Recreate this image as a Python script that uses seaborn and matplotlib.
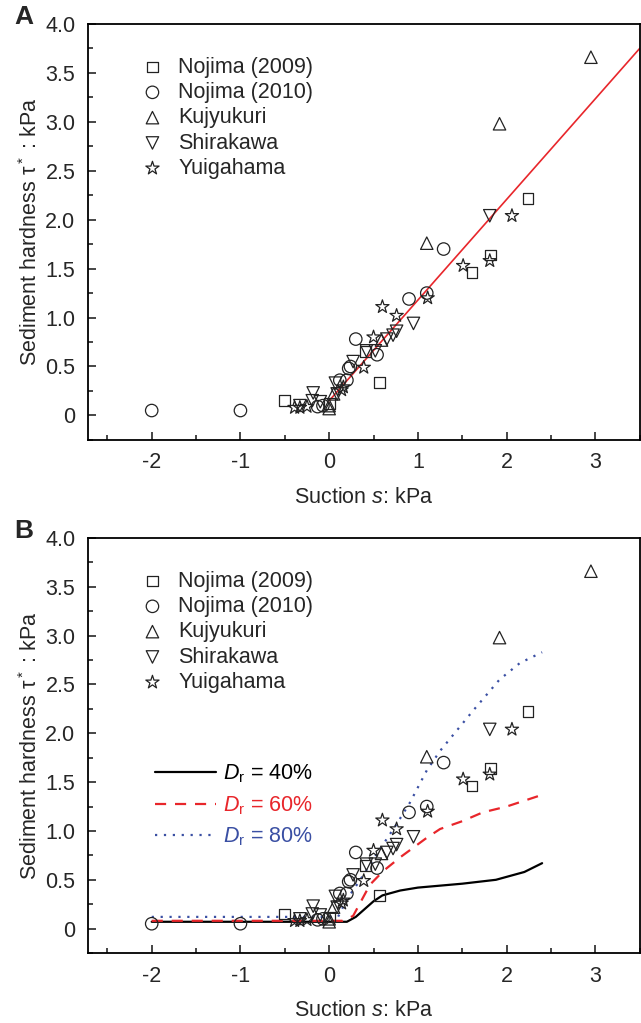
import numpy as np
import pandas as pd
import matplotlib
matplotlib.use('Agg')
import matplotlib.pyplot as plt
from matplotlib.ticker import MultipleLocator, FuncFormatter
import seaborn as sns

# field data (suction s [kPa], sediment hardness tau* [kPa])
nojima09_s = [-0.50, 0.00, 0.41, 0.57, 1.61, 1.82, 2.24]
nojima09_t = [0.15, 0.12, 0.65, 0.34, 1.46, 1.64, 2.22]

nojima10_s = [-2.00, -1.00, -0.13, -0.07, 0.12, 0.20, 0.22, 0.24, 0.30, 0.54, 0.90, 1.10, 1.29]
nojima10_t = [0.05, 0.05, 0.09, 0.10, 0.36, 0.36, 0.48, 0.50, 0.78, 0.62, 1.19, 1.25, 1.70]

kujyukuri_s = [0.00, 0.00, 0.05, 0.59, 1.10, 1.92, 2.95]
kujyukuri_t = [0.07, 0.10, 0.22, 0.77, 1.76, 2.98, 3.66]

shirakawa_s = [-0.33, -0.19, -0.18, -0.10, 0.07, 0.09, 0.27, 0.42, 0.52, 0.65, 0.72, 0.76, 0.95, 1.81]
shirakawa_t = [0.10, 0.15, 0.23, 0.14, 0.33, 0.22, 0.55, 0.66, 0.66, 0.78, 0.82, 0.86, 0.94, 2.04]

yuigahama_s = [-0.39, -0.33, -0.25, 0.14, 0.16, 0.39, 0.50, 0.60, 0.76, 1.11, 1.51, 1.81, 2.06]
yuigahama_t = [0.08, 0.08, 0.09, 0.26, 0.29, 0.49, 0.80, 1.11, 1.02, 1.20, 1.53, 1.58, 2.04]

# linear fit in panel A
fit_s = [0.0, 3.5]
fit_t = [0.15, 3.75]

# model curves in panel B
dr40_s = [-2.0, 0.2, 0.3, 0.4, 0.5, 0.6, 0.8, 1.0, 1.25, 1.5, 1.88, 2.2, 2.4]
dr40_t = [0.07, 0.07, 0.12, 0.20, 0.28, 0.34, 0.39, 0.42, 0.44, 0.46, 0.50, 0.58, 0.67]

dr60_s = [-2.0, 0.15, 0.27, 0.46, 0.61, 0.8, 1.1, 1.25, 1.5, 1.73, 2.0, 2.4]
dr60_t = [0.08, 0.08, 0.13, 0.45, 0.59, 0.73, 0.93, 1.02, 1.10, 1.19, 1.25, 1.37]

dr80_s = [-2.0, 0.1, 0.2, 0.35, 0.57, 0.76, 0.91, 1.1, 1.25, 1.62, 1.92, 2.15, 2.4]
dr80_t = [0.12, 0.12, 0.30, 0.50, 0.81, 1.07, 1.29, 1.62, 1.82, 2.23, 2.55, 2.72, 2.83]

datasets = ['Nojima (2009)', 'Nojima (2010)', 'Kujyukuri', 'Shirakawa', 'Yuigahama']
markers = ['s', 'o', '^', 'v', '*']
sizes = [60, 80, 80, 80, 100]

df = pd.concat([
    pd.DataFrame({'s': nojima09_s, 't': nojima09_t, 'set': datasets[0]}),
    pd.DataFrame({'s': nojima10_s, 't': nojima10_t, 'set': datasets[1]}),
    pd.DataFrame({'s': kujyukuri_s, 't': kujyukuri_t, 'set': datasets[2]}),
    pd.DataFrame({'s': shirakawa_s, 't': shirakawa_t, 'set': datasets[3]}),
    pd.DataFrame({'s': yuigahama_s, 't': yuigahama_t, 'set': datasets[4]}),
])

curves = pd.concat([
    pd.DataFrame({'s': dr40_s, 't': dr40_t, 'Dr': '40'}),
    pd.DataFrame({'s': dr60_s, 't': dr60_t, 'Dr': '60'}),
    pd.DataFrame({'s': dr80_s, 't': dr80_t, 'Dr': '80'}),
])

sns.set_style('ticks')
plt.rcParams['font.family'] = ['Liberation Sans', 'DejaVu Sans']
plt.rcParams['mathtext.fontset'] = 'custom'
plt.rcParams['mathtext.rm'] = 'Liberation Sans'
plt.rcParams['mathtext.it'] = 'Liberation Sans:italic'
plt.rcParams['axes.linewidth'] = 1.3

FS = 15.5

fig = plt.figure(figsize=(6.41, 10.23), dpi=100)
axA = fig.add_axes([0.137, 0.570, 0.861, 0.4066])
axB = fig.add_axes([0.137, 0.0684, 0.861, 0.4057])


def style_axes(ax):
    ax.set_xlim(-2.72, 3.5)
    ax.set_ylim(-0.25, 4.0)
    ax.xaxis.set_major_locator(MultipleLocator(1))
    ax.xaxis.set_minor_locator(MultipleLocator(0.5))
    ax.yaxis.set_major_locator(MultipleLocator(0.5))
    ax.yaxis.set_minor_locator(MultipleLocator(0.25))
    ax.yaxis.set_major_formatter(FuncFormatter(lambda v, p: '0' if abs(v) < 1e-9 else '%.1f' % v))
    ax.xaxis.set_major_formatter(FuncFormatter(lambda v, p: '%d' % round(v)))
    ax.tick_params(which='both', direction='in', top=False, right=False, labelsize=FS, width=1.2)
    ax.tick_params(which='major', length=6, pad=9)
    ax.tick_params(which='minor', length=3.5)
    ax.set_xlabel('Suction $s$: kPa', fontsize=FS, labelpad=10)
    ax.set_ylabel('Sediment hardness τ$^*$ : kPa', fontsize=FS, labelpad=2)
    for sp in ax.spines.values():
        sp.set_visible(True)
        sp.set_color('black')


def draw_points(ax):
    handles = []
    for name, m, sz in zip(datasets, markers, sizes):
        sub = df[df['set'] == name]
        sns.scatterplot(data=sub, x='s', y='t', marker=m, s=sz, facecolor='none',
                        edgecolor='#222222', linewidth=0.9, label=name, ax=ax, legend=False, zorder=3)
        handles.append(ax.collections[-1])
    leg = ax.legend(handles, datasets, loc='upper left', bbox_to_anchor=(0.082, 0.942),
                    frameon=False, fontsize=FS, labelspacing=0.2, handletextpad=0.7,
                    handlelength=1.0, borderaxespad=0)
    return leg


# panel A
style_axes(axA)
sns.lineplot(x=fit_s, y=fit_t, color='#e8262b', linewidth=1.2, ax=axA, zorder=2)
draw_points(axA)

# panel B
style_axes(axB)
line_colors = {'40': 'black', '60': '#e8262b', '80': '#3a4fa3'}
line_styles = {'40': '-', '60': (0, (5, 4)), '80': (0, (1, 3))}
line_handles = []
for dr in ['40', '60', '80']:
    sub = curves[curves['Dr'] == dr]
    sns.lineplot(data=sub, x='s', y='t', color=line_colors[dr], linewidth=1.6,
                 linestyle=line_styles[dr], ax=axB, zorder=2, sort=False)
    line_handles.append(axB.lines[-1])
leg1 = draw_points(axB)
axB.add_artist(leg1)
leg2 = axB.legend(line_handles, ['$D_\\mathrm{r}$ = 40%', '$D_\\mathrm{r}$ = 60%', '$D_\\mathrm{r}$ = 80%'],
                  loc='upper left', bbox_to_anchor=(0.107, 0.48), frameon=False, fontsize=FS,
                  labelspacing=0.42, handlelength=2.8, handletextpad=0.35, borderaxespad=0)
for txt, dr in zip(leg2.get_texts(), ['40', '60', '80']):
    txt.set_color(line_colors[dr])
style_axes(axB)

fig.text(0.022, 0.983, 'A', fontsize=19, fontweight='bold', va='center')
fig.text(0.022, 0.481, 'B', fontsize=19, fontweight='bold', va='center')

fig.savefig('out.png', dpi=100)
